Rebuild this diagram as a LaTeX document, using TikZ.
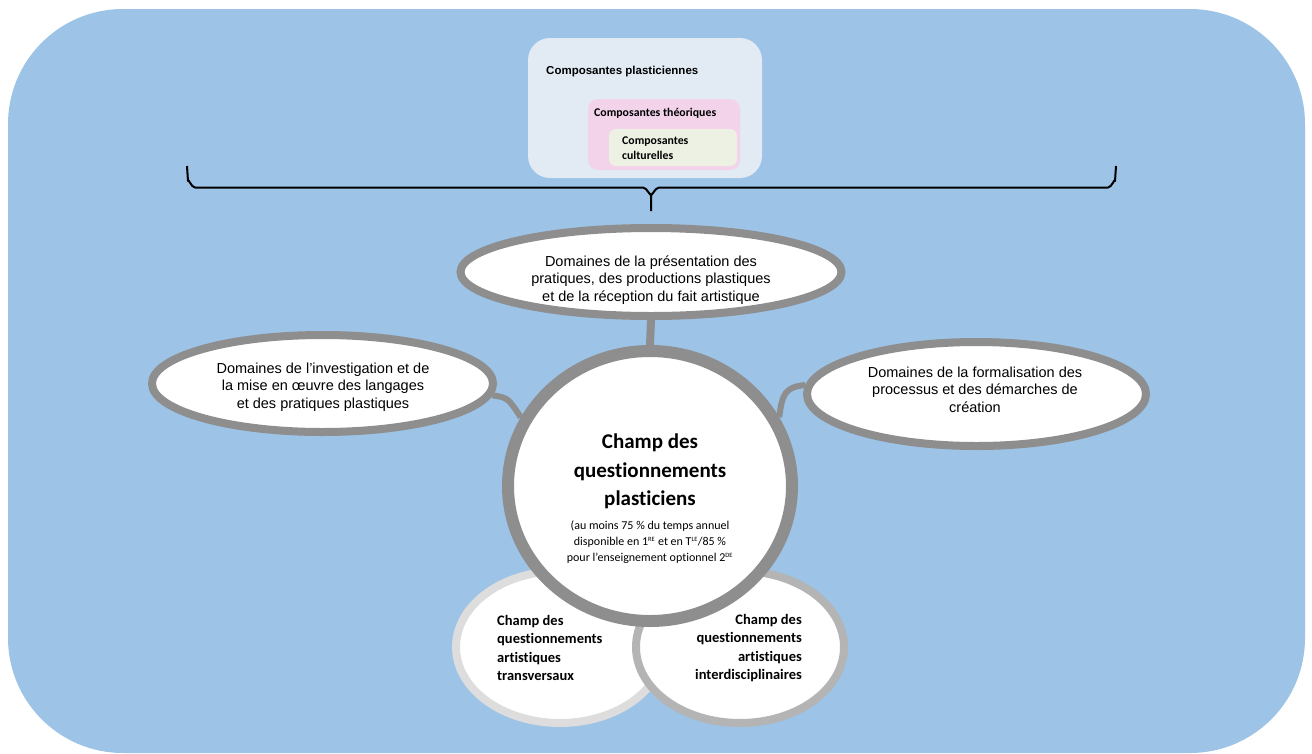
\documentclass[tikz,border=0pt]{standalone}
\usepackage{fontspec}
\setmainfont{Liberation Sans}
\newfontfamily\carl[Ligatures={NoCommon,NoContextual}]{Carlito}
\usetikzlibrary{shapes.geometric}
\definecolor{bgblue}{RGB}{157,195,230}
\definecolor{boxblue}{RGB}{226,234,244}
\definecolor{boxpink}{RGB}{242,211,234}
\definecolor{boxgreen}{RGB}{237,241,227}
\definecolor{ringgray}{RGB}{142,142,142}
\definecolor{lightring}{RGB}{221,221,221}
\definecolor{midring}{RGB}{180,180,180}
\newcommand\mysup[1]{\textsuperscript{\fontsize{6.5}{6.5}\selectfont #1}}
\begin{document}
\begin{tikzpicture}[x=1pt,y=-1pt,
  ell/.style={ellipse, draw=ringgray, line width=8pt, fill=white, inner sep=0pt},
  link/.style={draw=ringgray, line width=6pt},
  txt/.style={inner sep=0pt, align=center, text=black},
  panel/.style={inner sep=0pt, draw=none}]
\useasboundingbox (0,0) rectangle (1312,753);
\fill[bgblue, rounded corners=115pt] (8,9) rectangle (1305,753);

% top boxes
\node[panel, fill=boxblue, rounded corners=22pt, minimum width=234pt, minimum height=140pt] (boxP) at (645,108) {};
\node[panel, fill=boxpink, rounded corners=10pt, minimum width=152pt, minimum height=71pt] (boxT) at (664,134.5) {};
\node[panel, fill=boxgreen, rounded corners=7pt, minimum width=128pt, minimum height=37pt] (boxC) at (673,147.5) {};
\node[txt, anchor=west, font=\bfseries\fontsize{11.5}{14}\selectfont] (txtP) at (546,72) {Composantes plasticiennes};
\node[txt, anchor=west, font=\carl\bfseries\fontsize{11.8}{14}\selectfont] (txtT) at (594,113) {Composantes théoriques};
\node[txt, anchor=west, align=left, font=\carl\bfseries\fontsize{11.8}{15}\selectfont] (txtC) at (622,148) {Composantes\\culturelles};

% brace
\draw[black, line width=2pt, line join=round]
  (187,166) -- (188,181) to[out=90,in=180] (195,187.5) -- (643,187.5) to[out=0,in=-90] (651,194) -- (651,211);
\draw[black, line width=2pt, line join=round]
  (1116,166) -- (1115,181) to[out=90,in=0] (1108,187.5) -- (659,187.5) to[out=180,in=-90] (651,194);

% bottom circles
\node[ellipse, draw=lightring, line width=8pt, fill=white, inner sep=0pt, minimum width=208pt, minimum height=152pt] (bL) at (560,647) {};
\node[ellipse, draw=midring, line width=8pt, fill=white, inner sep=0pt, minimum width=208pt, minimum height=152pt] (bR) at (740,647) {};
\node[txt, align=left, anchor=west, font=\carl\bfseries\fontsize{14.5}{18.3}\selectfont] (bLT) at (497,648) {Champ des\\questionnements\\artistiques\\transversaux};
\node[txt, align=right, anchor=east, font=\carl\bfseries\fontsize{14.5}{18.3}\selectfont] (bRT) at (802,648) {Champ des\\questionnements\\artistiques\\interdisciplinaires};

% domain ellipses
\node[ell, minimum width=381pt, minimum height=88pt] (topE) at (651,272) {};
\node[ell, minimum width=341pt, minimum height=97pt] (leftE) at (322.5,383.5) {};
\node[ell, minimum width=339pt, minimum height=104pt] (rightE) at (976.5,394) {};

% central circle
\node[ellipse, draw=ringgray, line width=12pt, fill=white, inner sep=0pt, minimum width=284pt, minimum height=270pt] (C) at (650,486) {};

% connectors
\draw[draw=ringgray, line width=8pt] (topE.south) -- (C.north);
\draw[link] (leftE.-4) .. controls +(16,2) and +(-12,-18) .. (C.152);
\draw[link] (rightE.177) .. controls +(-20,2) and +(3,-24) .. (C.28);

% ellipse texts
\node[txt, font=\fontsize{14.5}{17.5}\selectfont] (topT) at (651,280) {Domaines de la présentation des\\pratiques, des productions plastiques\\et de la réception du fait artistique};
\node[txt, font=\fontsize{14.5}{17.5}\selectfont] (leftT) at (323,387) {Domaines de l’investigation et de\\la mise en œuvre des langages\\et des pratiques plastiques};
\node[txt, font=\fontsize{14.5}{17.5}\selectfont] (rightT) at (975,389.5) {Domaines de la formalisation des\\processus et des démarches de\\création};

% central texts
\node[txt, font=\carl\bfseries\fontsize{21}{28.5}\selectfont] (cT) at (650,471.5) {Champ des\\questionnements\\plasticiens};
\node[txt, font=\carl\fontsize{12}{16}\selectfont] (cS) at (650,542.5) {(au moins 75~\% du temps annuel\\disponible en 1\mysup{RE} et en T\mysup{LE}/85~\%\\pour l’enseignement optionnel 2\mysup{DE}};
\end{tikzpicture}
\end{document}
